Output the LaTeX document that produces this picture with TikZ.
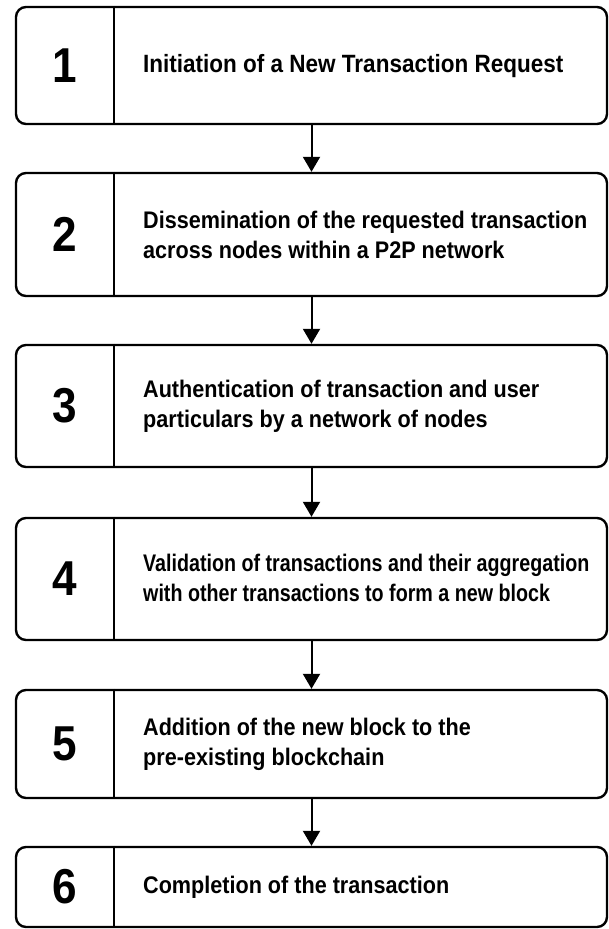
\documentclass[tikz,border=0pt]{standalone}
\usepackage{fontspec}
\setmainfont[FakeStretch=0.9]{Liberation Sans}
\newfontfamily\narrowfont[FakeStretch=0.82]{Liberation Sans}
\usetikzlibrary{arrows.meta}
\begin{document}
\begin{tikzpicture}[
        x=1pt, y=-1pt,
        stepbox/.style={draw, line width=2.4pt, rounded corners=10pt, minimum width=591pt, inner sep=0pt},
        num/.style={font=\fontsize{49}{49}\selectfont\bfseries, inner sep=0pt},
        desc/.style={font=\fontsize{24}{30}\selectfont\bfseries, align=left, anchor=west, inner sep=0pt},
        divider/.style={line width=2pt},
        flow/.style={line width=2pt, -{Triangle[width=17pt,length=15pt]}}
    ]
        \useasboundingbox (0,0) rectangle (609,929);

        % Step 1
        \node[stepbox, minimum height=117pt] (box1) at (311.5,65.5) {};
        \node[num] (n1) at (65,65.5) {1};
        \node[desc, font=\fontsize{25}{30}\selectfont\bfseries] (t1) at (143,66) {Initiation of a New Transaction Request};
        \draw[divider] ([xshift=99pt]box1.north west) -- ([xshift=99pt]box1.south west);

        % Step 2
        \node[stepbox, minimum height=123pt] (box2) at (311.5,234.5) {};
        \node[num] (n2) at (65,234.5) {2};
        \node[desc] (t2) at (143,234.5) {Dissemination of the requested transaction\\across nodes within a P2P network};
        \draw[divider] ([xshift=99pt]box2.north west) -- ([xshift=99pt]box2.south west);

        % Step 3
        \node[stepbox, minimum height=122pt] (box3) at (311.5,406) {};
        \node[num] (n3) at (65,406) {3};
        \node[desc] (t3) at (143,406) {Authentication of transaction and user\\particulars by a network of nodes};
        \draw[divider] ([xshift=99pt]box3.north west) -- ([xshift=99pt]box3.south west);

        % Step 4
        \node[stepbox, minimum height=122pt] (box4) at (311.5,579) {};
        \node[num] (n4) at (65,579) {4};
        \node[desc, font=\narrowfont\fontsize{24}{30}\selectfont\bfseries] (t4) at (143,578) {Validation of transactions and their aggregation\\with other transactions to form a new block};
        \draw[divider] ([xshift=99pt]box4.north west) -- ([xshift=99pt]box4.south west);

        % Step 5
        \node[stepbox, minimum height=108pt] (box5) at (311.5,744) {};
        \node[num] (n5) at (65,744) {5};
        \node[desc] (t5) at (143,744) {Addition of the new block to the\\pre-existing blockchain};
        \draw[divider] ([xshift=99pt]box5.north west) -- ([xshift=99pt]box5.south west);

        % Step 6
        \node[stepbox, minimum height=80pt] (box6) at (311.5,887) {};
        \node[num] (n6) at (65,887) {6};
        \node[desc] (t6) at (143,887) {Completion of the transaction};
        \draw[divider] ([xshift=99pt]box6.north west) -- ([xshift=99pt]box6.south west);

        % Arrows between steps
        \draw[flow] (box1) -- (box2);
        \draw[flow] (box2) -- (box3);
        \draw[flow] (box3) -- (box4);
        \draw[flow] (box4) -- (box5);
        \draw[flow] (box5) -- (box6);
    \end{tikzpicture}
\end{document}
